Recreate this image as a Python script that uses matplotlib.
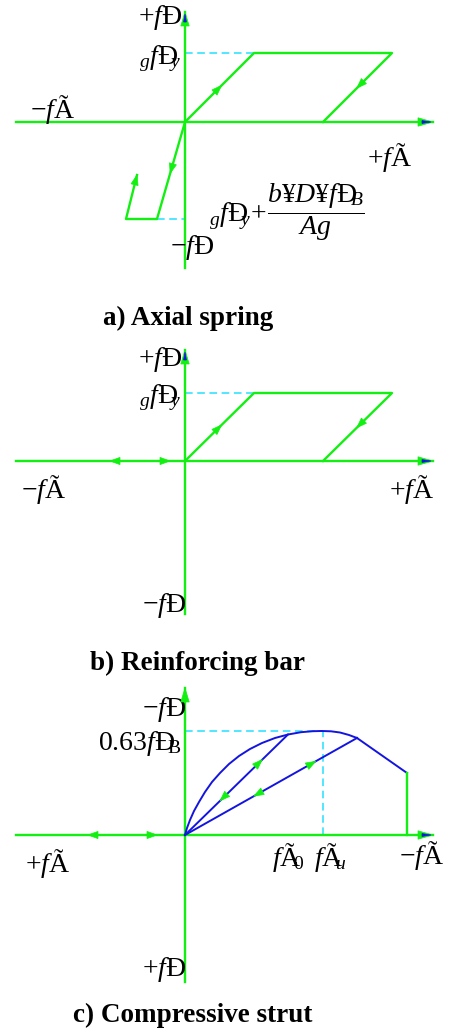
import numpy as np
import matplotlib
matplotlib.use('Agg')
import matplotlib.pyplot as plt
from matplotlib.patches import Polygon

plt.rcParams.update({
    'font.family': ['Liberation Serif', 'DejaVu Serif'],
    'mathtext.fontset': 'custom',
    'mathtext.rm': 'Liberation Serif',
    'mathtext.it': 'Liberation Serif:italic',
    'mathtext.bf': 'Liberation Serif:bold',
})

GREEN = '#12f012'
BLUE = '#1414e0'
CYAN = '#20e0ff'

# ---------------- data (schematic units) ----------------
# a) Axial spring
a_axis_x = [-169, 248]
a_axis_y = [-146, 110]
a_tens_x = [0, 69, 207, 138]
a_tens_y = [0, 69, 69, 0]
a_comp_x = [0, -28, -59, -48]
a_comp_y = [0, -97, -97, -53]

# b) Reinforcing bar
b_axis_x = [-169, 248]
b_axis_y = [-153, 111]
b_loop_x = [0, 69, 207, 138]
b_loop_y = [0, 68, 68, 0]
b_axis_arrows = [-75, -15]

# c) Compressive strut
c_axis_x = [-169, 248]
c_axis_y = [-147, 147]
c_env_x = [0, 2, 5, 9, 14, 20, 27, 35, 44, 54, 65, 77, 90, 103, 116, 128, 137, 146, 155, 164, 172]
c_env_y = [0, 7, 15, 24, 33, 43, 53, 62, 71, 79, 86, 92, 97, 100.5, 102.8, 103.8, 104, 103.7, 102.5, 100, 97]
c_soft_x = [172, 222, 222]
c_soft_y = [97, 62, 0]
c_unl1 = (103, 100.5)
c_unl2 = (172, 97)
c_eps_u = 137.7
c_peak = 104
c_axis_arrows = [-97, -28]


def head(ax, tip, d, L=10, W=3.6, color=GREEN, z=5):
    d = np.asarray(d, float)
    d = d / np.hypot(*d)
    n = np.array([-d[1], d[0]])
    tip = np.asarray(tip, float)
    base = tip - L * d
    pts = [tip, base + W * n, base - W * n]
    ax.add_patch(Polygon(pts, closed=True, fc=color, ec=color, lw=0.5, zorder=z))


def on_seg(ax, p0, p1, frac):
    p0 = np.asarray(p0, float); p1 = np.asarray(p1, float)
    head(ax, p0 + frac * (p1 - p0), p1 - p0)


def axes_lines(ax, xs, ys, blue_v=True):
    ax.plot(xs, [0, 0], color=GREEN, lw=1.7, zorder=3)
    ax.plot([0, 0], ys, color=GREEN, lw=1.7, zorder=3)
    head(ax, (xs[1], 0), (1, 0), L=15, W=4.2)
    head(ax, (xs[1] - 2, 0), (1, 0), L=9, W=1.4, color=BLUE, z=6)
    head(ax, (0, ys[1]), (0, 1), L=14, W=4.2)
    if blue_v:
        head(ax, (0, ys[1] - 2), (0, 1), L=8, W=1.4, color=BLUE, z=6)


fig = plt.figure(figsize=(4.57, 10.30), dpi=100)
H = 1030.0

def panel(top, bot, oy):
    ax = fig.add_axes([0, 1 - bot / H, 1, (bot - top) / H])
    ax.set_xlim(-185, 272)
    ax.set_ylim(oy - bot, oy - top)
    ax.axis('off')
    return ax

FS = 20
SUBY = r'\!\!{}_{y}'

# ---------- panel a ----------
ax = panel(0, 280, 122)
axes_lines(ax, a_axis_x, a_axis_y)
ax.plot([0, a_tens_x[1]], [a_tens_y[1]] * 2, color=CYAN, lw=1.1, ls=(0, (5, 3)), zorder=2)
ax.plot([a_comp_x[1], 0], [a_comp_y[1]] * 2, color=CYAN, lw=1.1, ls=(0, (5, 3)), zorder=2)
ax.plot(a_tens_x, a_tens_y, color=GREEN, lw=1.7, zorder=4)
ax.plot(a_comp_x, a_comp_y, color=GREEN, lw=1.7, zorder=4)
on_seg(ax, (a_tens_x[0], a_tens_y[0]), (a_tens_x[1], a_tens_y[1]), 0.53)
on_seg(ax, (a_tens_x[2], a_tens_y[2]), (a_tens_x[3], a_tens_y[3]), 0.51)
on_seg(ax, (a_comp_x[0], a_comp_y[0]), (a_comp_x[1], a_comp_y[1]), 0.53)
on_seg(ax, (a_comp_x[2], a_comp_y[2]), (a_comp_x[3], a_comp_y[3]), 1.0)
ax.text(-3, 104, r'$+f\mathrm{Đ}$', fontsize=FS, ha='right', va='center')
ax.text(-3, 63, r'${}_{g}f\mathrm{Đ}' + SUBY + '$', fontsize=FS, ha='right', va='center')
ax.text(-132, 12, r'$-f\mathrm{Ã}$', fontsize=FS, ha='center', va='center')
ax.text(205, -36, r'$+f\mathrm{Ã}$', fontsize=FS, ha='center', va='center')
ax.text(7, -125, r'$-f\mathrm{Đ}$', fontsize=FS, ha='center', va='center')
ax.text(102, -90, r'${}_{g}f\mathrm{Đ}' + SUBY + r'\!+\!\dfrac{b\mathrm{¥}D\mathrm{¥}f\mathrm{Đ}\!\!{}_{B}}{Ag}$',
        fontsize=FS, ha='center', va='center')

# ---------- panel b ----------
ax = panel(280, 640, 461)
axes_lines(ax, b_axis_x, b_axis_y)
ax.plot([0, b_loop_x[1]], [b_loop_y[1]] * 2, color=CYAN, lw=1.1, ls=(0, (5, 3)), zorder=2)
ax.plot(b_loop_x, b_loop_y, color=GREEN, lw=1.7, zorder=4)
on_seg(ax, (b_loop_x[0], b_loop_y[0]), (b_loop_x[1], b_loop_y[1]), 0.53)
on_seg(ax, (b_loop_x[2], b_loop_y[2]), (b_loop_x[3], b_loop_y[3]), 0.51)
head(ax, (b_axis_arrows[0], 0), (-1, 0))
head(ax, (b_axis_arrows[1], 0), (1, 0))
ax.text(-3, 101, r'$+f\mathrm{Đ}$', fontsize=FS, ha='right', va='center')
ax.text(-3, 63, r'${}_{g}f\mathrm{Đ}' + SUBY + '$', fontsize=FS, ha='right', va='center')
ax.text(-141, -29, r'$-f\mathrm{Ã}$', fontsize=FS, ha='center', va='center')
ax.text(227, -29, r'$+f\mathrm{Ã}$', fontsize=FS, ha='center', va='center')
ax.text(1, -145, r'$-f\mathrm{Đ}$', fontsize=FS, ha='right', va='center')

# ---------- panel c ----------
ax = panel(640, 1030, 835)
axes_lines(ax, c_axis_x, c_axis_y, blue_v=False)
ax.plot([0, c_eps_u], [c_peak] * 2, color=CYAN, lw=1.1, ls=(0, (5, 3)), zorder=2)
ax.plot([c_eps_u] * 2, [0, c_peak], color=CYAN, lw=1.1, ls=(0, (5, 3)), zorder=2)
ax.plot(c_env_x, c_env_y, color=BLUE, lw=1.4, zorder=4)
ax.plot(c_soft_x[:2], c_soft_y[:2], color=BLUE, lw=1.4, zorder=4)
ax.plot(c_soft_x[1:], c_soft_y[1:], color=GREEN, lw=1.7, zorder=4)
ax.plot([0, c_unl1[0]], [0, c_unl1[1]], color=BLUE, lw=1.4, zorder=4)
ax.plot([0, c_unl2[0]], [0, c_unl2[1]], color=BLUE, lw=1.4, zorder=4)
on_seg(ax, (0, 0), c_unl1, 0.75)
on_seg(ax, c_unl1, (0, 0), 1 - 0.34)
on_seg(ax, (0, 0), c_unl2, 0.76)
on_seg(ax, c_unl2, (0, 0), 1 - 0.40)
head(ax, (c_axis_arrows[0], 0), (-1, 0))
head(ax, (c_axis_arrows[1], 0), (1, 0))
ax.text(1, 125, r'$-f\mathrm{Đ}$', fontsize=FS, ha='right', va='center')
ax.text(-3, 91, r'$0.63f\mathrm{Đ}\!\!{}_{\mathrm{B}}$', fontsize=FS, ha='right', va='center')
ax.text(103, -22, r'$f\mathrm{Ã}\!\!{}_{0}$', fontsize=FS, ha='center', va='center')
ax.text(145, -22, r'$f\mathrm{Ã}\!\!{}_{u}$', fontsize=FS, ha='center', va='center')
ax.text(237, -20, r'$-f\mathrm{Ã}$', fontsize=FS, ha='center', va='center')
ax.text(-137, -29, r'$+f\mathrm{Ã}$', fontsize=FS, ha='center', va='center')
ax.text(1, -135, r'$+f\mathrm{Đ}$', fontsize=FS, ha='right', va='center')

# ---------- titles ----------
TFS = 19.5
fig.text(188 / 457, 1 - 318 / H, 'a) Axial spring', fontsize=TFS, fontweight='bold', ha='center', va='center')
fig.text(197 / 457, 1 - 663 / H, 'b) Reinforcing bar', fontsize=TFS, fontweight='bold', ha='center', va='center')
fig.text(193 / 457, 1 - 1015 / H, 'c) Compressive strut', fontsize=TFS, fontweight='bold', ha='center', va='center')

fig.savefig('out.png', dpi=100)
